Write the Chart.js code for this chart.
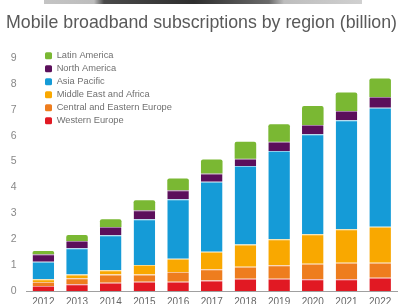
<!DOCTYPE html>
<html>
<head>
<meta charset="utf-8">
<script src="https://cdn.jsdelivr.net/npm/chart.js@4/dist/chart.umd.min.js"></script>
<style>
  html, body { margin: 0; padding: 0; background: #ffffff; overflow: hidden; }
  #wrap { position: relative; width: 405px; height: 313px; }
  #strip { position: absolute; left: 44px; top: 0; width: 318px; height: 4px;
    background: linear-gradient(to right, #c4c4c4 0px, #bdbdbd 50px, #4a4a4a 60px, #2e2e2e 150px, #6a6a6a 225px, #bdbdbd 240px, #d0d0d0 318px); z-index: 2; }
</style>
</head>
<body>
<div id="wrap">
  <div id="strip"></div>
  <canvas id="c"></canvas>
</div>
<script>
const years = ['2012','2013','2014','2015','2016','2017','2018','2019','2020','2021','2022'];
const westernEurope        = [0.19,0.26,0.32,0.36,0.36,0.41,0.47,0.47,0.45,0.45,0.51];
const centralEasternEurope = [0.16,0.23,0.32,0.28,0.37,0.43,0.47,0.52,0.60,0.64,0.58];
const middleEastAfrica     = [0.10,0.15,0.16,0.36,0.52,0.68,0.86,1.01,1.14,1.29,1.39];
const asiaPacific          = [0.68,1.01,1.35,1.77,2.29,2.70,3.03,3.41,3.86,4.21,4.60];
const northAmerica         = [0.29,0.28,0.32,0.35,0.35,0.32,0.28,0.35,0.36,0.36,0.41];
const latinAmerica         = [0.12,0.23,0.30,0.38,0.45,0.54,0.65,0.68,0.73,0.71,0.72];
const yTicks = [0,1,2,3,4,5,6,7,8,9];
const titleText = 'Mobile broadband subscriptions by region (billion)';

const FONT = "'Liberation Sans', Arial, Helvetica, sans-serif";

function ds(label, data, bg, edge, extra) {
  return Object.assign({
    label: label, data: data, backgroundColor: bg, borderColor: edge,
    borderWidth: { top: 1, left: 0, right: 0, bottom: 0 }, borderSkipped: false,
    categoryPercentage: 0.8, barPercentage: 0.8
  }, extra || {});
}

const legendPos = {
  id: 'legendPos',
  afterLayout(chart) {
    const lg = chart.legend;
    if (!lg) return;
    const h = chart.chartArea.bottom - chart.chartArea.top;
    lg.left = 41.3; lg.top = 47.3;
    lg.right = lg.left + 200; lg.bottom = lg.top + h;
    lg.width = 200; lg.height = h;
  }
};

new Chart(document.getElementById('c'), {
  type: 'bar',
  data: {
    labels: years,
    datasets: [
      ds('Western Europe', westernEurope, '#e11923', '#f08a8e'),
      ds('Central and Eastern Europe', centralEasternEurope, '#ee7d1e', '#f7c08f'),
      ds('Middle East and Africa', middleEastAfrica, '#f9a800', '#fcd780'),
      ds('Asia Pacific', asiaPacific, '#159bd7', '#8bcdeb'),
      ds('North America', northAmerica, '#5b0f5b', '#a37aa3'),
      ds('Latin America', latinAmerica, '#7ab833', '#7ab833',
         { borderWidth: 0, borderRadius: { topLeft: 2, topRight: 2, bottomLeft: 0, bottomRight: 0 } })
    ]
  },
  options: {
    responsive: true,
    maintainAspectRatio: false,
    animation: false,
    layout: { padding: { left: 6, right: 8, top: 0, bottom: 0 } },
    plugins: {
      title: {
        display: true, text: titleText, align: 'start', color: '#595959',
        font: { family: FONT, size: 18.6, weight: 'normal' },
        padding: { top: 11.4, bottom: 24.2 }
      },
      legend: {
        position: 'chartArea', align: 'start', reverse: true,
        labels: {
          boxWidth: 7, boxHeight: 7, padding: 3.7, color: '#707070',
          font: { family: FONT, size: 9.3 },
          generateLabels(chart) {
            const items = Chart.defaults.plugins.legend.labels.generateLabels(chart);
            return items.map(it => Object.assign(it, { lineWidth: 0, borderRadius: 1.5, strokeStyle: it.fillStyle }));
          }
        }
      },
      tooltip: { enabled: false }
    },
    scales: {
      x: {
        stacked: true,
        grid: { display: false, drawTicks: false },
        border: { display: true, color: '#a0a0a0', width: 1 },
        ticks: { color: '#666666', padding: 5, font: { family: FONT, size: 10 }, maxRotation: 0, autoSkip: false }
      },
      y: {
        stacked: true, min: 0, max: 9,
        grid: { display: false, drawTicks: false },
        border: { display: false },
        afterFit(scale) { scale.width = 20.5; },
        afterBuildTicks(scale) { scale.ticks = yTicks.map(v => ({ value: v })); },
        ticks: { color: '#888888', padding: 10, font: { family: FONT, size: 10.5 } }
      }
    }
  },
  plugins: [legendPos]
});
</script>
</body>
</html>
